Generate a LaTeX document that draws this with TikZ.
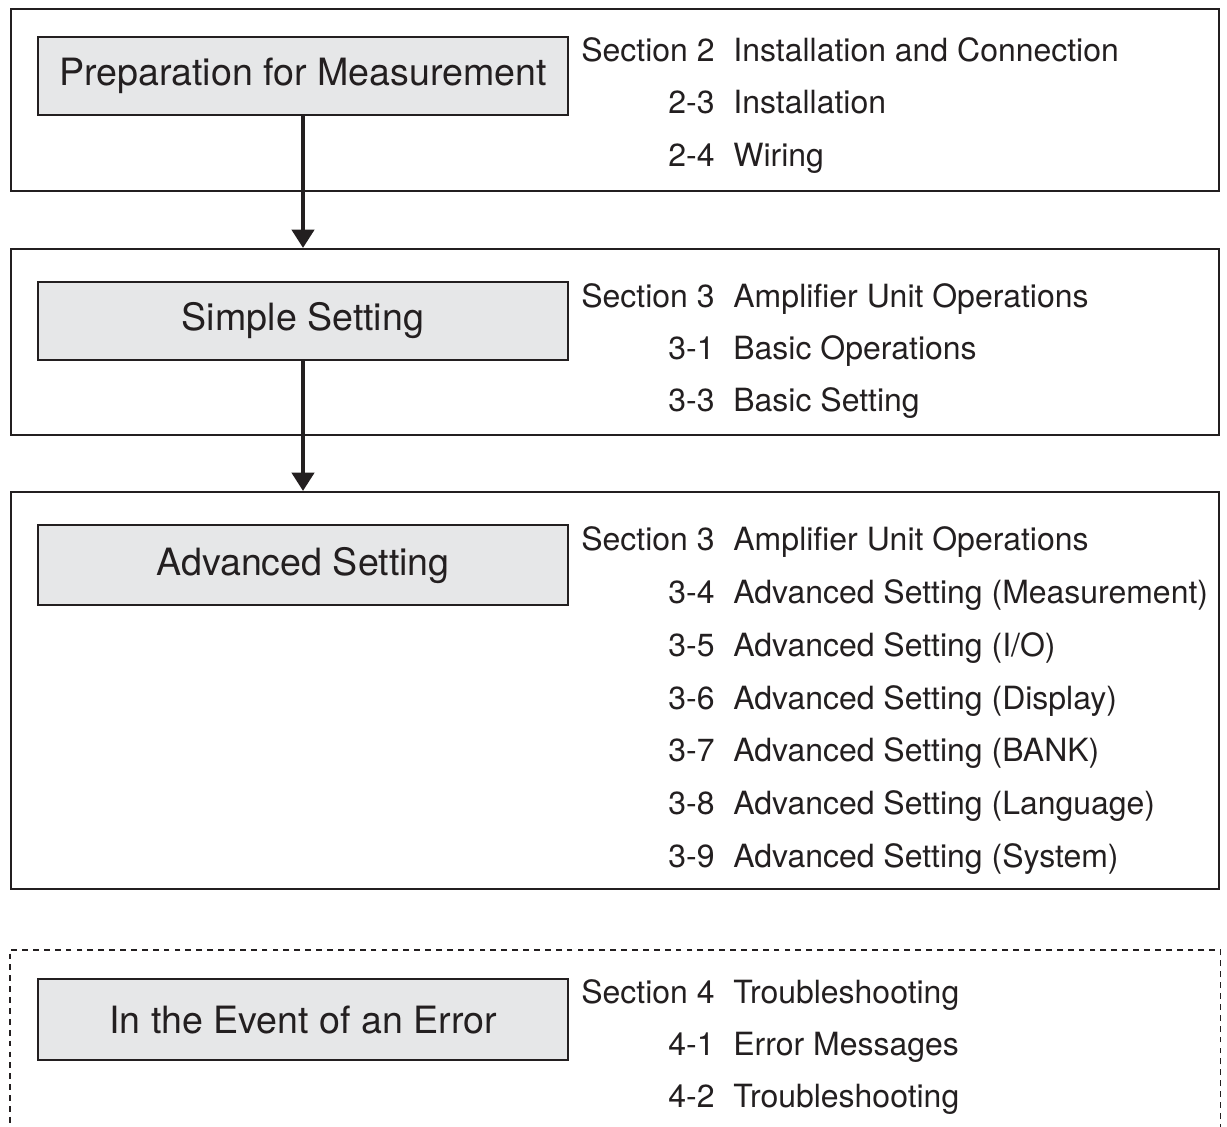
\documentclass[tikz,border=0pt]{standalone}
\usepackage{fontspec}
\setmainfont{TeX Gyre Heros}
\usepackage{xcolor}
\usepackage{tikz}
\usetikzlibrary{arrows.meta,positioning}
\definecolor{ink}{HTML}{231F20}
\definecolor{boxgray}{HTML}{E6E7E8}
\tikzstyle{frame} = [rectangle, draw=ink, line width=1.2pt, anchor=north west, minimum width=24.16cm, inner sep=0pt]
\tikzstyle{dframe} = [frame, line width=0.9pt, dash pattern=on 3.3pt off 2.9pt]
\tikzstyle{stage} = [rectangle, draw=ink, line width=1.2pt, fill=boxgray, anchor=north west, minimum width=10.6cm, minimum height=1.56cm, inner sep=0pt, text=ink, font=\fontsize{21.4}{25}\selectfont]
\tikzstyle{txt} = [inner sep=0pt, text=ink, font=\fontsize{18.2}{21}\selectfont]
\tikzstyle{flow} = [draw=ink, line width=2.8pt, -{Triangle[width=12.5pt, length=10.5pt]}]
\newcommand{\Sect}[3]{%
  \node[txt, anchor=base west] (#1) at (581,#2) {#3};}
\newcommand{\Item}[4]{%
  \node[txt, anchor=base east] (#1n) at (715,#2) {#3};
  \node[txt, anchor=base west] (#1t) at (733,#2) {#4};}

\begin{document}
\begin{tikzpicture}[x=0.02cm, y=-0.02cm]
	\useasboundingbox (0,0) rectangle (1227,1126);
	% frames
	\node[frame, minimum height=3.64cm] (f1) at (10,8) {};
	\node[frame, minimum height=3.72cm] (f2) at (10,248) {};
	\node[frame, minimum height=7.94cm] (f3) at (10,491) {};
	\node[dframe, minimum width=24.22cm, minimum height=4.0cm] (f4) at (9,949) {};
	% stages
	\node[stage] (prep) at (37,36) {Preparation for Measurement};
	\node[stage] (simple) at (37,281) {Simple Setting};
	\node[stage, minimum height=1.6cm] (adv) at (37,524) {Advanced Setting};
	\node[stage, minimum height=1.62cm] (err) at (37,978) {In the Event of an Error};
 	\draw[flow] (prep.south) -- (prep.south |- f2.north);
 	\draw[flow] (simple.south) -- (simple.south |- f3.north);
	% sections
	\Sect{s2}{61}{Section 2}
	\node[txt, anchor=base west] (s2t) at (733,61) {Installation and Connection};
	\Item{i23}{113}{2-3}{Installation}
	\Item{i24}{166}{2-4}{Wiring}
	\Sect{s3a}{307}{Section 3}
	\node[txt, anchor=base west] (s3at) at (733,307) {Amplifier Unit Operations};
	\Item{i31}{359}{3-1}{Basic Operations}
	\Item{i33}{411}{3-3}{Basic Setting}
	\Sect{s3b}{550}{Section 3}
	\node[txt, anchor=base west] (s3bt) at (733,550) {Amplifier Unit Operations};
	\Item{i34}{603}{3-4}{Advanced Setting (Measurement)}
	\Item{i35}{656}{3-5}{Advanced Setting (I/O)}
	\Item{i36}{709}{3-6}{Advanced Setting (Display)}
	\Item{i37}{761}{3-7}{Advanced Setting (BANK)}
	\Item{i38}{814}{3-8}{Advanced Setting (Language)}
	\Item{i39}{867}{3-9}{Advanced Setting (System)}
	\Sect{s4}{1003}{Section 4}
	\node[txt, anchor=base west] (s4t) at (733,1003) {Troubleshooting};
	\Item{i41}{1055}{4-1}{Error Messages}
	\Item{i42}{1107}{4-2}{Troubleshooting}
\end{tikzpicture}
\end{document}
